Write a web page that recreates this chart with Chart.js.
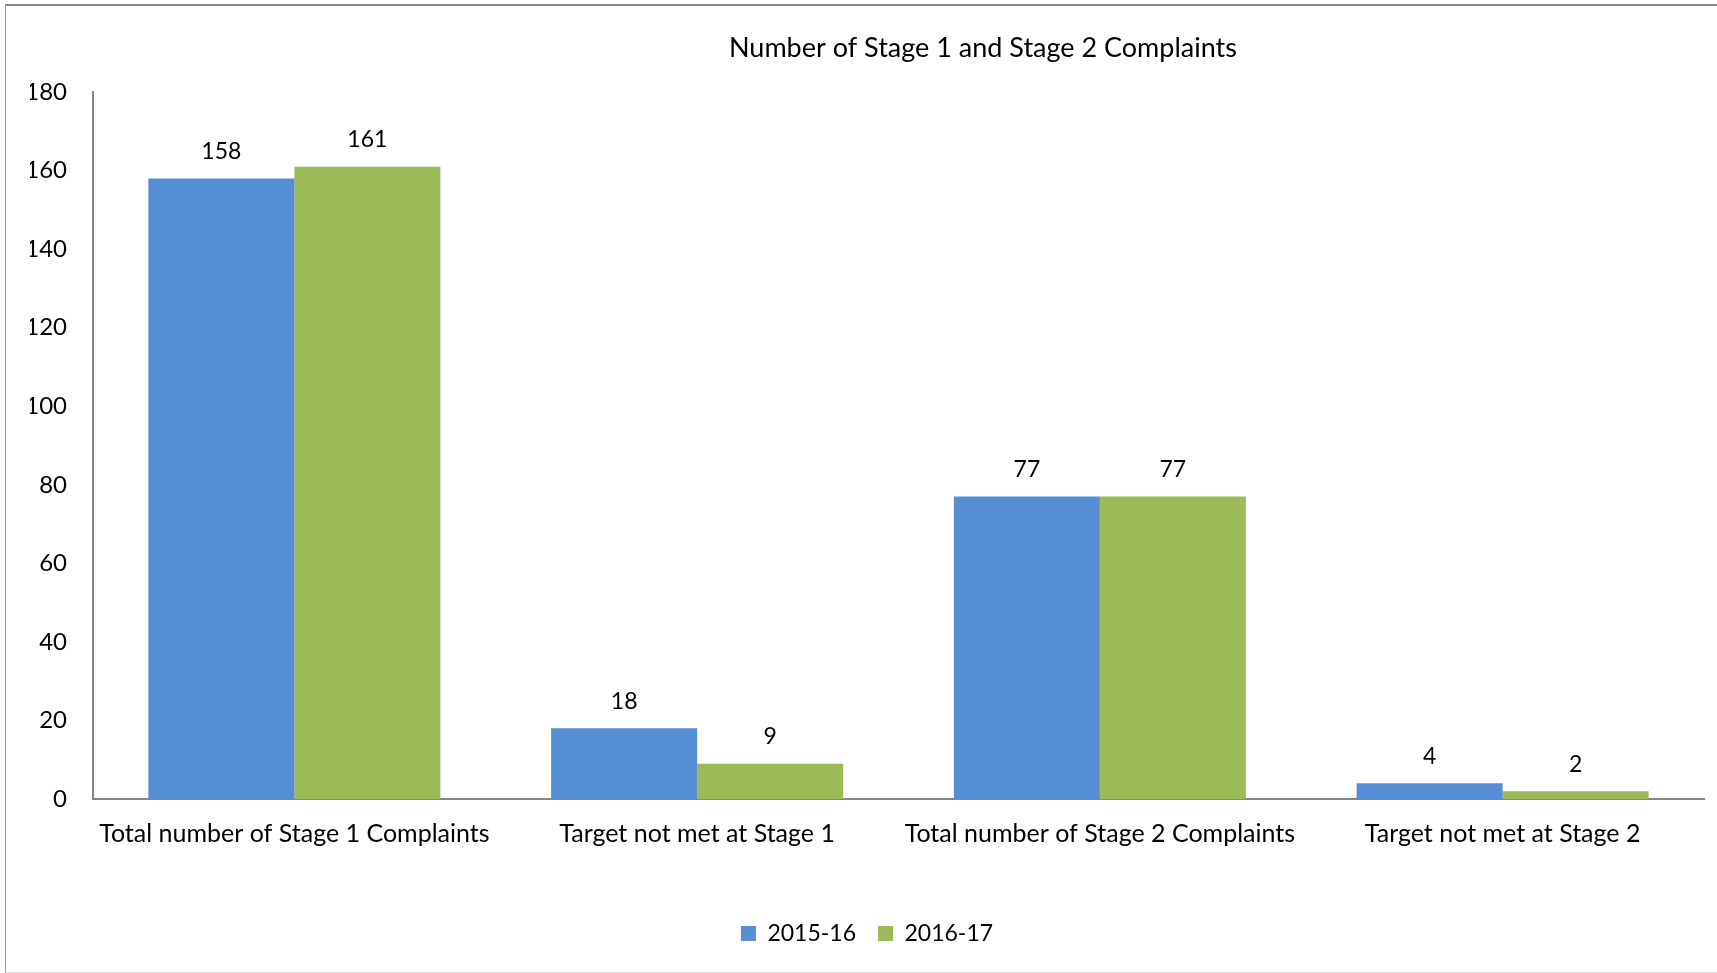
<!DOCTYPE html>
<html>
<head>
<meta charset="utf-8">
<title>Number of Stage 1 and Stage 2 Complaints</title>
<script src="https://cdn.jsdelivr.net/npm/chart.js@4"></script>
<style>
  html,body{margin:0;padding:0;background:#fff;overflow:hidden}
  #wrap{position:relative;width:1717px;height:973px}
  #frame{position:absolute;left:5px;top:4px;width:1800px;height:966px;
    border-top:2px solid #8c8c8c;border-left:1px solid #999;border-bottom:1px solid #d9d9d9}
  canvas{position:absolute;left:0;top:0}
</style>
</head>
<body>
<div id="wrap">
  <div id="frame"></div>
  <canvas id="chart" width="1717" height="973"></canvas>
</div>
<script>
// Data
const categories = ['Total number of Stage 1 Complaints','Target not met at Stage 1','Total number of Stage 2 Complaints','Target not met at Stage 2'];
const seriesNames = ['2015-16','2016-17'];
const values2015 = [158, 18, 77, 4];
const values2016 = [161, 9, 77, 2];
const yTicks = [0,20,40,60,80,100,120,140,160,180];
const chartTitle = 'Number of Stage 1 and Stage 2 Complaints';

const FONT = 'Lato, "Open Sans", sans-serif';
const BLUE = '#558ed5', GREEN = '#9bbb59';

// title: original chart was wider than the crop, so it sits right of centre
const offsetTitle = {
  id:'offsetTitle',
  afterDraw(chart){
    const ctx = chart.ctx;
    ctx.save();
    ctx.font = '27px ' + FONT;
    ctx.fillStyle = '#000';
    ctx.textAlign = 'center';
    ctx.textBaseline = 'middle';
    ctx.fillText(chartTitle, chart.width * 0.5725, 48);
    ctx.restore();
  }
};

// draw the value above every bar
const valueLabels = {
  id:'valueLabels',
  afterDatasetsDraw(chart){
    const ctx = chart.ctx;
    ctx.save();
    ctx.font = '23px ' + FONT;
    ctx.fillStyle = '#000';
    ctx.textAlign = 'center';
    ctx.textBaseline = 'middle';
    chart.data.datasets.forEach((ds,i)=>{
      chart.getDatasetMeta(i).data.forEach((bar,j)=>{
        ctx.fillText(String(ds.data[j]), bar.x, bar.y - 27);
      });
    });
    ctx.restore();
  }
};

new Chart(document.getElementById('chart').getContext('2d'), {
  type:'bar',
  data:{
    labels: categories,
    datasets:[
      {label:seriesNames[0], data:values2015, backgroundColor:BLUE, borderWidth:0},
      {label:seriesNames[1], data:values2016, backgroundColor:GREEN, borderWidth:0}
    ]
  },
  options:{
    responsive:false,
    animation:false,
    devicePixelRatio:1,
    categoryPercentage:0.725,
    barPercentage:1,
    layout:{padding:{left:30,right:13,top:92,bottom:18}},
    plugins:{
      title:{display:false},
      legend:{position:'bottom', labels:{color:'#000', font:{family:FONT, size:23},
        boxWidth:15, boxHeight:15, padding:22}},
      tooltip:{enabled:false}
    },
    scales:{
      x:{
        afterFit(scale){ scale.height = 101; },
        grid:{display:false, drawTicks:false},
        border:{display:true, color:'#868686', width:2},
        ticks:{color:'#000', font:{family:FONT, size:25}, padding:20, maxRotation:0, autoSkip:false}
      },
      y:{
        min:0, max:180,
        afterBuildTicks(scale){ scale.ticks = yTicks.map(v=>({value:v})); },
        afterFit(scale){ scale.width = 63; },
        grid:{display:false, drawTicks:false},
        border:{display:true, color:'#868686', width:2},
        ticks:{color:'#000', font:{family:FONT, size:24}, padding:26}
      }
    }
  },
  plugins:[valueLabels, offsetTitle]
});
</script>
</body>
</html>
